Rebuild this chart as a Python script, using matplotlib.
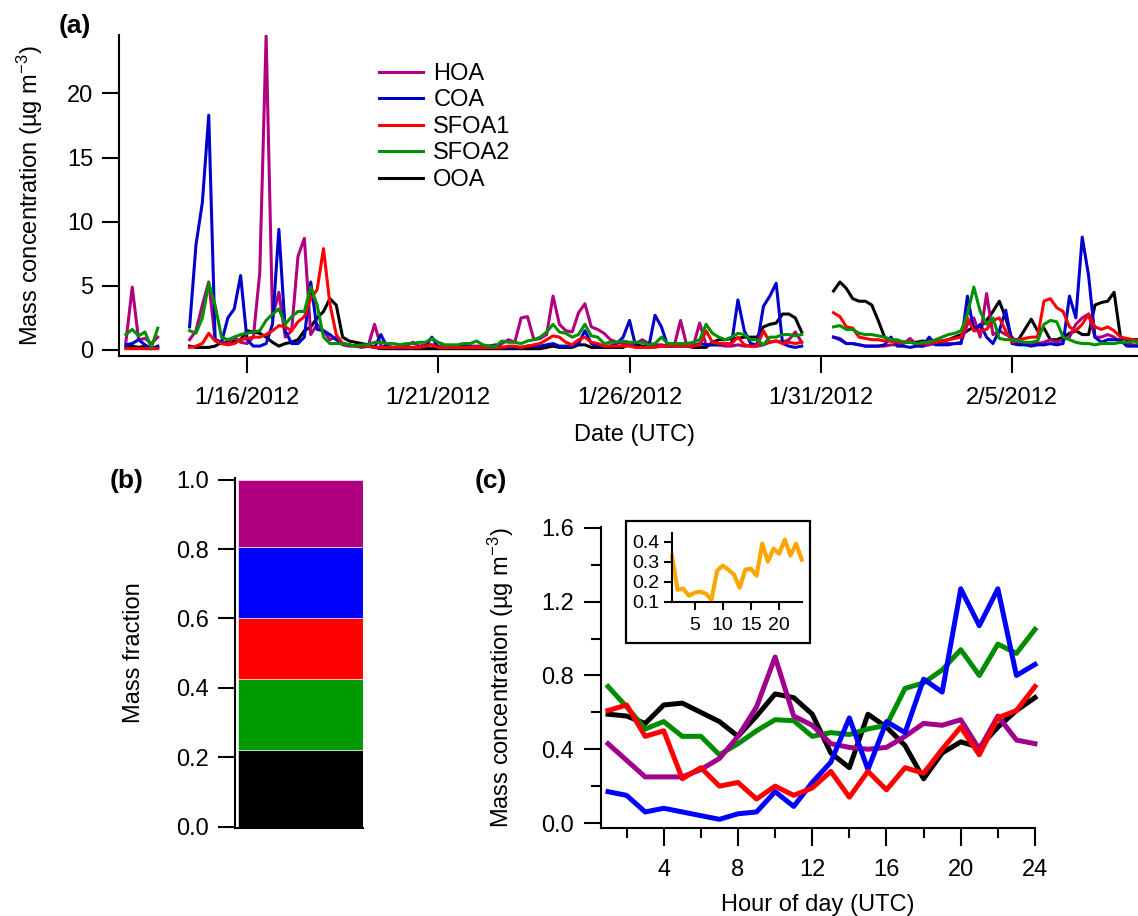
import numpy as np
import matplotlib
matplotlib.use("Agg")
import matplotlib.pyplot as plt
import matplotlib.dates as mdates
from matplotlib.ticker import FixedLocator, FuncFormatter, FormatStrFormatter
from matplotlib.patches import Rectangle

plt.rcParams['font.family'] = ['Liberation Sans', 'DejaVu Sans']
plt.rcParams['mathtext.fontset'] = 'custom'
plt.rcParams['mathtext.rm'] = 'Liberation Sans'
plt.rcParams['mathtext.default'] = 'regular'

nan = np.nan

# (a) time series, 4-hourly values, one row per day (00,04,08,12,16,20 UTC), Jan 12 .. Feb 8
start = np.datetime64('2012-01-12T00:00')
step = np.timedelta64(4, 'h')

hoa = [
    nan, nan, nan, nan, nan, 0.6,      # Jan 12
    4.9, 0.8, 0.9, 0.5, 1.0, nan,      # Jan 13
    nan, nan, nan, 0.8, 1.5, 3.5,      # Jan 14
    5.3, 0.8, 0.6, 0.5, 1.0, 0.6,      # Jan 15
    0.5, 1.0, 6.0, 24.5, 2.5, 4.5,     # Jan 16
    1.0, 1.5, 7.3, 8.7, 1.2, 2.0,      # Jan 17
    1.5, 0.8, 1.0, 0.4, 0.3, 0.3,      # Jan 18
    0.2, 0.3, 2.0, 0.3, 0.3, 0.2,      # Jan 19
    0.3, 0.3, 0.6, 0.3, 0.4, 0.4,      # Jan 20
    0.3, 0.3, 0.3, 0.3, 0.4, 0.3,      # Jan 21
    0.3, 0.3, 0.3, 0.3, 0.5, 0.8,      # Jan 22
    0.6, 2.5, 2.6, 0.8, 0.9, 1.2,      # Jan 23
    4.2, 2.0, 1.5, 1.4, 2.9, 3.6,      # Jan 24
    1.8, 1.6, 1.3, 0.8, 0.6, 0.5,      # Jan 25
    0.4, 0.5, 0.8, 0.5, 0.4, 0.4,      # Jan 26
    0.3, 0.3, 2.3, 0.3, 0.3, 2.1,      # Jan 27
    0.4, 0.4, 0.4, 0.3, 0.3, 0.4,      # Jan 28
    0.3, 0.3, 0.3, 0.4, 0.6, 0.7,      # Jan 29
    0.6, 0.8, 1.4, 0.6, nan, nan,      # Jan 30
    nan, nan, 1.0, 0.9, 0.5, 0.5,      # Jan 31
    0.4, 0.3, 0.3, 0.3, 0.3, 0.4,      # Feb 1
    0.4, 0.5, 0.9, 0.4, 0.3, 0.4,      # Feb 2
    0.5, 0.6, 0.5, 0.5, 0.6, 2.0,      # Feb 3
    2.5, 1.0, 4.4, 1.2, 1.5, 1.2,      # Feb 4
    1.0, 0.5, 0.5, 0.5, 0.5, 0.6,      # Feb 5
    0.8, 0.6, 0.8, 1.0, 2.0, 2.5,      # Feb 6
    2.8, 1.0, 1.0, 1.2, 1.0, 0.6,      # Feb 7
    0.5, 0.4, 0.3, nan, nan, nan,      # Feb 8
]

coa = [
    nan, nan, nan, nan, nan, 0.4,
    0.5, 0.8, 0.4, 0.1, 0.3, nan,
    nan, nan, nan, 1.8, 8.2, 11.5,
    18.3, 0.8, 0.6, 2.5, 3.2, 5.8,
    0.8, 0.3, 0.3, 0.5, 2.0, 9.4,
    1.5, 0.5, 0.5, 1.0, 5.3, 1.6,
    1.5, 1.2, 0.8, 0.5, 0.4, 0.3,
    0.3, 0.3, 0.2, 1.2, 0.2, 0.15,
    0.15, 0.15, 0.2, 0.2, 0.3, 1.0,
    0.2, 0.2, 0.2, 0.2, 0.3, 0.2,
    0.2, 0.2, 0.3, 0.4, 0.2, 0.2,
    0.2, 0.2, 0.3, 0.3, 0.3, 0.4,
    0.5, 0.3, 0.3, 0.3, 0.5, 1.5,
    0.5, 0.3, 0.3, 0.3, 0.5, 1.0,
    2.3, 0.2, 0.2, 0.2, 2.7, 1.8,
    0.3, 0.3, 0.5, 0.3, 0.3, 0.5,
    0.4, 0.4, 0.4, 0.5, 0.5, 3.9,
    1.5, 0.5, 0.4, 3.4, 4.2, 5.2,
    0.5, 0.3, 0.2, 0.3, nan, nan,
    nan, nan, 1.0, 0.8, 0.5, 0.5,
    0.4, 0.3, 0.3, 0.3, 0.4, 1.0,
    0.3, 0.3, 0.2, 0.3, 0.3, 1.0,
    0.4, 0.4, 0.4, 0.5, 0.5, 4.2,
    1.5, 2.0, 1.0, 0.5, 1.5, 3.1,
    0.5, 0.4, 0.4, 0.3, 0.4, 0.4,
    0.5, 0.4, 0.5, 4.2, 2.5, 8.8,
    5.8, 1.0, 0.6, 0.8, 0.8, 0.8,
    0.3, 0.3, 0.3, nan, nan, nan,
]

sfoa1 = [
    nan, nan, nan, nan, nan, 0.1,
    0.1, 0.1, 0.1, 0.1, 0.1, nan,
    nan, nan, nan, 0.2, 0.3, 0.5,
    1.3, 0.7, 0.5, 0.4, 0.5, 0.8,
    0.9, 1.0, 1.0, 1.2, 1.5, 1.9,
    1.8, 1.5, 2.2, 2.6, 4.0, 4.7,
    7.9, 3.6, 1.2, 0.5, 0.4, 0.3,
    0.3, 0.3, 0.2, 0.2, 0.2, 0.2,
    0.2, 0.2, 0.2, 0.2, 0.3, 0.4,
    0.2, 0.2, 0.2, 0.2, 0.2, 0.2,
    0.2, 0.2, 0.2, 0.2, 0.2, 0.3,
    0.3, 0.2, 0.3, 0.4, 0.5, 0.8,
    1.1, 1.0, 0.6, 0.4, 0.8, 1.0,
    0.6, 0.5, 0.3, 0.3, 0.3, 0.3,
    0.3, 0.2, 0.2, 0.2, 0.2, 0.3,
    0.3, 0.3, 0.3, 0.3, 0.3, 0.4,
    1.5, 0.6, 0.5, 0.5, 0.5, 1.0,
    0.4, 0.3, 0.3, 1.5, 0.6, 0.7,
    0.5, 0.6, 0.5, 0.6, nan, nan,
    nan, nan, 2.9, 2.6, 1.8, 1.7,
    1.0, 0.9, 0.8, 0.8, 0.7, 0.7,
    0.6, 0.6, 0.6, 0.5, 0.5, 0.6,
    0.6, 0.7, 0.8, 0.9, 1.0, 2.5,
    1.5, 1.5, 1.6, 2.3, 2.5, 1.5,
    0.6, 0.8, 0.9, 1.0, 1.0, 3.8,
    4.0, 3.3, 3.0, 1.8, 1.5, 2.0,
    2.8, 1.8, 1.6, 1.8, 1.5, 1.0,
    0.9, 0.8, 0.7, nan, nan, nan,
]

sfoa2 = [
    nan, nan, nan, nan, nan, 1.2,
    1.6, 1.1, 1.4, 0.2, 1.7, nan,
    nan, nan, nan, 1.5, 1.3, 2.5,
    5.2, 3.5, 1.0, 0.8, 1.0, 1.2,
    1.3, 1.4, 1.5, 2.3, 2.8, 3.2,
    2.0, 2.6, 3.0, 3.0, 4.9, 3.5,
    1.0, 0.5, 0.5, 0.5, 0.4, 0.3,
    0.4, 0.4, 0.6, 0.6, 0.5, 0.5,
    0.4, 0.5, 0.5, 0.6, 0.6, 0.9,
    0.6, 0.4, 0.4, 0.4, 0.5, 0.5,
    0.7, 0.4, 0.3, 0.3, 0.7, 0.6,
    0.6, 0.5, 0.7, 0.8, 1.0, 1.4,
    2.0, 1.4, 1.3, 1.0, 1.2, 2.0,
    1.1, 1.0, 0.5, 0.6, 0.6, 0.7,
    0.6, 0.6, 0.6, 0.4, 0.5, 1.0,
    0.5, 0.5, 0.5, 0.5, 0.6, 0.8,
    2.0, 1.3, 1.0, 0.8, 1.0, 1.3,
    1.2, 0.8, 0.8, 0.4, 1.0, 1.0,
    1.2, 1.2, 1.1, 1.2, nan, nan,
    nan, nan, 1.8, 1.9, 1.6, 1.6,
    1.3, 1.2, 1.2, 1.1, 1.0, 0.8,
    0.8, 0.6, 0.6, 0.5, 0.6, 0.6,
    0.8, 1.0, 1.2, 1.3, 1.5, 2.8,
    4.9, 3.0, 2.0, 2.5, 0.9, 0.8,
    0.8, 0.7, 0.6, 0.6, 0.7, 2.0,
    2.3, 2.2, 1.0, 0.8, 0.6, 0.5,
    0.5, 0.4, 0.5, 0.5, 0.5, 0.6,
    0.6, 0.7, 0.5, nan, nan, nan,
]

ooa = [
    nan, nan, nan, nan, nan, 0.2,
    0.3, 0.2, 0.3, 0.1, 0.2, nan,
    nan, nan, nan, 0.3, 0.2, 0.2,
    0.2, 0.3, 0.6, 0.6, 0.7, 0.8,
    1.5, 1.4, 1.3, 1.0, 0.6, 0.3,
    0.5, 0.6, 0.8, 1.5, 1.8, 2.5,
    3.0, 4.0, 3.5, 1.0, 0.7, 0.6,
    0.5, 0.4, 0.2, 0.1, 0.1, 0.1,
    0.1, 0.1, 0.1, 0.1, 0.1, 0.1,
    0.1, 0.1, 0.1, 0.1, 0.1, 0.1,
    0.1, 0.1, 0.1, 0.1, 0.1, 0.1,
    0.1, 0.1, 0.1, 0.1, 0.1, 0.2,
    0.3, 0.2, 0.2, 0.2, 0.4, 0.4,
    0.2, 0.2, 0.2, 0.2, 0.2, 0.2,
    0.5, 0.4, 0.3, 0.3, 0.3, 0.3,
    0.3, 0.3, 0.3, 0.3, 0.2, 0.2,
    0.2, 0.6, 0.8, 0.8, 0.9, 0.9,
    1.0, 1.0, 1.0, 1.8, 2.0, 2.1,
    2.8, 2.8, 2.5, 1.4, nan, nan,
    nan, nan, 4.6, 5.3, 4.8, 4.0,
    3.8, 3.8, 3.5, 2.3, 1.0, 0.7,
    0.7, 0.6, 0.6, 0.6, 0.7, 0.6,
    0.7, 0.7, 0.8, 1.0, 1.2, 1.5,
    1.8, 1.8, 2.3, 3.0, 3.8, 2.5,
    0.8, 0.8, 1.6, 2.4, 1.5, 1.7,
    0.8, 0.8, 1.0, 1.3, 1.5, 1.2,
    1.2, 3.5, 3.7, 3.8, 4.5, 1.0,
    0.8, 0.8, 0.8, nan, nan, nan,
]

date_ticks = ['2012-01-16', '2012-01-21', '2012-01-26', '2012-01-31', '2012-02-05']

# (b) mass fractions, bottom to top
frac_names = ['OOA', 'SFOA2', 'SFOA1', 'COA', 'HOA']
frac_values = [0.221, 0.204, 0.176, 0.205, 0.194]

# (c) diurnal cycles
hours = list(range(1, 25))
hoa_d = [0.43, 0.34, 0.25, 0.25, 0.25, 0.29, 0.35, 0.47, 0.63, 0.90, 0.58, 0.53,
         0.43, 0.41, 0.40, 0.41, 0.47, 0.54, 0.53, 0.56, 0.40, 0.58, 0.45, 0.43]
coa_d = [0.17, 0.15, 0.06, 0.08, 0.06, 0.04, 0.02, 0.05, 0.06, 0.17, 0.09, 0.22,
         0.33, 0.57, 0.29, 0.55, 0.49, 0.78, 0.71, 1.27, 1.07, 1.27, 0.80, 0.86]
sfoa1_d = [0.61, 0.64, 0.47, 0.50, 0.24, 0.30, 0.20, 0.22, 0.13, 0.20, 0.15, 0.19,
           0.28, 0.14, 0.28, 0.18, 0.30, 0.27, 0.40, 0.52, 0.37, 0.57, 0.61, 0.74]
sfoa2_d = [0.74, 0.63, 0.51, 0.55, 0.47, 0.47, 0.37, 0.43, 0.50, 0.56, 0.555, 0.47,
           0.49, 0.48, 0.51, 0.53, 0.73, 0.76, 0.83, 0.94, 0.80, 0.97, 0.92, 1.05]
ooa_d = [0.59, 0.58, 0.54, 0.64, 0.65, 0.60, 0.55, 0.47, 0.58, 0.70, 0.68, 0.59,
         0.38, 0.30, 0.59, 0.52, 0.42, 0.24, 0.38, 0.44, 0.41, 0.52, 0.61, 0.68]
inset_d = [0.325, 0.16, 0.165, 0.13, 0.145, 0.15, 0.14, 0.11, 0.255, 0.28, 0.26, 0.235,
           0.17, 0.26, 0.265, 0.23, 0.39, 0.30, 0.365, 0.34, 0.41, 0.33, 0.39, 0.31]

# colours
c_hoa = '#B0007F'
c_coa = '#0000CC'
c_sfoa1 = '#FF0000'
c_sfoa2 = '#009000'
c_ooa = '#000000'

FS = 17
W, H = 1138, 916
fig = plt.figure(figsize=(W / 100, H / 100), dpi=100)


def px_axes(left, top, right, bottom):
    return fig.add_axes([left / W, 1 - bottom / H, (right - left) / W, (bottom - top) / H])


def igor_style(ax, fs=FS, length=12.5, pad=6):
    for s in ['top', 'right']:
        ax.spines[s].set_visible(False)
    for s in ['left', 'bottom']:
        ax.spines[s].set_linewidth(1.5)
    ax.tick_params(direction='out', width=1.5, length=length, labelsize=fs, pad=pad)


# ---------- (a)
ax = px_axes(119, 35, 1138, 356)
igor_style(ax)
t = start + step * np.arange(len(hoa))
tn = mdates.date2num(t)
lw_a = 2.2
l_ooa, = ax.plot(tn, ooa, color=c_ooa, lw=lw_a)
l_hoa, = ax.plot(tn, hoa, color=c_hoa, lw=lw_a)
l_coa, = ax.plot(tn, coa, color=c_coa, lw=lw_a)
l_s1, = ax.plot(tn, sfoa1, color=c_sfoa1, lw=lw_a)
l_s2, = ax.plot(tn, sfoa2, color=c_sfoa2, lw=lw_a)
ax.set_xlim(mdates.date2num(np.datetime64('2012-01-12T15:42')),
            mdates.date2num(np.datetime64('2012-02-08T07:00')))
ax.set_ylim(-0.47, 24.55)
ax.set_yticks([0, 5, 10, 15, 20])
ax.set_xticks(mdates.date2num(np.array(date_ticks, dtype='datetime64[D]')))


def date_fmt(v, p):
    d = mdates.num2date(v)
    return f"{d.month}/{d.day}/{d.year}"


ax.xaxis.set_major_formatter(FuncFormatter(date_fmt))
ax.tick_params(axis='x', pad=10)
ax.set_xlabel('Date (UTC)', fontsize=FS)
ax.xaxis.set_label_coords((634 - 119) / 1019, -0.212)
ax.set_ylabel('Mass concentration (µg m$^{-3}$)', fontsize=FS)
ax.yaxis.set_label_coords(-0.0726, 0.5)
ax.legend([l_hoa, l_coa, l_s1, l_s2, l_ooa], ['HOA', 'COA', 'SFOA1', 'SFOA2', 'OOA'],
          loc='upper left', bbox_to_anchor=(379 / W, 1 - 63 / H), bbox_transform=fig.transFigure,
          frameon=False, fontsize=FS, handlelength=1.85, handletextpad=0.45,
          labelspacing=0.19, borderpad=0, borderaxespad=0)

# ---------- (b)
axb = px_axes(235, 478, 363, 828)
igor_style(axb)
bottom = 0.0
b_colors = [c_ooa, '#009900', c_sfoa1, '#0000FF', c_hoa]
for v, c in zip(frac_values, b_colors):
    axb.bar(0, v, width=1, bottom=bottom, align='edge', color=c, edgecolor='white', linewidth=0.4)
    bottom += v
axb.set_xlim(-0.025, 1)
axb.set_ylim(-0.004, 1.005)
axb.set_xticks([])
axb.set_yticks([0, 0.2, 0.4, 0.6, 0.8, 1.0])
axb.yaxis.set_major_formatter(FormatStrFormatter('%.1f'))
axb.set_ylabel('Mass fraction', fontsize=FS)
axb.yaxis.set_label_coords(-0.703, 0.5)

# ---------- (c)
axc = px_axes(601, 527, 1035, 828)
igor_style(axc, length=12, pad=7.5)
kw = dict(lw=3.6, clip_on=False)
axc.plot(hours, ooa_d, color='#000000', **kw)
axc.plot(hours, sfoa2_d, color='#008C00', **kw)
axc.plot(hours, hoa_d, color='#A0008C', **kw)
axc.plot(hours, coa_d, color='#0000FF', **kw)
axc.plot(hours, sfoa1_d, color='#FF0000', **kw)
axc.set_xlim(0.62, 24)
axc.set_ylim(-0.027, 1.605)
axc.xaxis.set_major_locator(FixedLocator([4, 8, 12, 16, 20, 24]))
axc.xaxis.set_minor_locator(FixedLocator([2, 6, 10, 14, 18, 22]))
axc.yaxis.set_major_locator(FixedLocator([0.0, 0.4, 0.8, 1.2, 1.6]))
axc.yaxis.set_minor_locator(FixedLocator([0.2, 0.6, 1.0, 1.4]))
axc.yaxis.set_major_formatter(FormatStrFormatter('%.1f'))
axc.tick_params(axis='x', which='major', length=13, pad=9)
axc.tick_params(which='minor', direction='out', width=1.5, length=7)
axc.set_xlabel('Hour of day (UTC)', fontsize=FS)
axc.xaxis.set_label_coords(0.5, -0.22)
axc.set_ylabel('Mass concentration (µg m$^{-3}$)', fontsize=FS)
axc.yaxis.set_label_coords(-0.197, 0.5)

# inset frame and inset
fig.add_artist(Rectangle((626 / W, 1 - 643 / H), (810 - 626) / W, (643 - 521) / H,
                         transform=fig.transFigure, fill=False, lw=1.6, ec='black'))
axi = px_axes(672, 533, 801.7, 601.7)
igor_style(axi, fs=14, length=6, pad=3)
axi.plot(hours, inset_d, color='#FFA500', lw=3, clip_on=False)
axi.set_xlim(1, 24)
axi.set_ylim(0.1, 0.443)
axi.set_xticks([5, 10, 15, 20])
axi.set_yticks([0.1, 0.2, 0.3, 0.4])
axi.yaxis.set_major_formatter(FormatStrFormatter('%.1f'))
axi.tick_params(axis='x', pad=5)

# panel letters
for lx, ly, txt in [(75, 26, '(a)'), (126.7, 481.5, '(b)'), (491, 481.5, '(c)')]:
    fig.text(lx / W, 1 - ly / H, txt, fontsize=19, fontweight='bold', ha='center', va='center')

fig.savefig('out.png', dpi=100)
